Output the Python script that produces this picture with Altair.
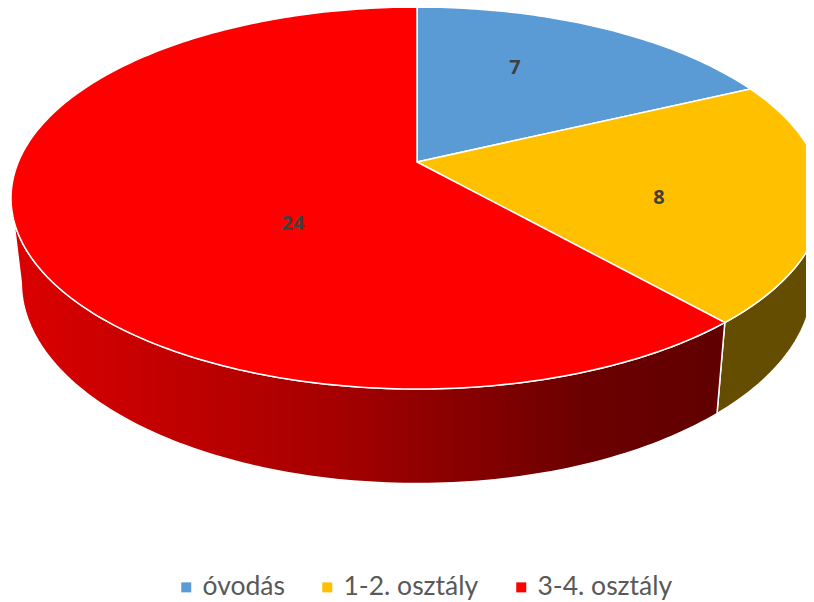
import math
import altair as alt

categories = ["óvodás", "1-2. osztály", "3-4. osztály"]
values = [7, 8, 24]
top_colors = ["#5B9BD5", "#FFC000", "#FF0000"]

# perspective view of the disc (pixels of the page)
CX, TOP_CY, BOT_CY = 417, 162, 244.5
TOP_A, TOP_B, BOT_A, BOT_B, K = 398.7, 184.2, 388.6, 194.0, 0.1885
OX, OY = -8, -8
LEFT_TANGENT, RIGHT_TANGENT = 259.0, 101.0
label_radius = [0.627, 0.615, 0.431]
label_shift = [-6.6, 6.4, -26.5]


def top(theta, r=1.0):
    t = math.radians(theta)
    u, v = r * math.sin(t), r * math.cos(t)
    w = 1 + K * v
    return [CX + TOP_A * u / w, TOP_CY - TOP_B * v / w]


def bottom(theta):
    t = math.radians(theta)
    u, v = math.sin(t), math.cos(t)
    w = 1 + K * v
    return [CX + BOT_A * u / w, BOT_CY - BOT_B * v / w]


def sweep(a, b, step=1.0):
    n = max(2, int(abs(b - a) / step))
    return [a + (b - a) * i / n for i in range(n + 1)]


def feature(cat, ring):
    ring = ring + [ring[0]]
    return {"type": "Feature", "properties": {"category": cat},
            "geometry": {"type": "Polygon", "coordinates": [ring]}}


total = sum(values)
edges = [0.0]
for v in values:
    edges.append(edges[-1] + v / total * 360)

tops = [feature(c, [top(0, 0)] + [top(t) for t in sweep(a, b)])
        for c, a, b in zip(categories, edges[:-1], edges[1:])]


def side(cat, a, b):
    ts = sweep(a, b)
    return feature(cat, [top(t) for t in ts] + [bottom(t) for t in reversed(ts)])


side_yellow = side(categories[1], RIGHT_TANGENT, edges[2])
side_red = side(categories[2], edges[2], LEFT_TANGENT)

label_rows = []
for c, v, a, b, r, s in zip(categories, values, edges[:-1], edges[1:], label_radius, label_shift):
    p = top((a + b) / 2 + s, r)
    label_rows.append({"lon": p[0], "lat": p[1], "value": str(v)})

proj = dict(type="identity", scale=1, translate=[OX, OY])


def gradient(stops):
    return alt.Gradient(gradient="linear", x1=0, x2=1, y1=0, y2=0,
                        stops=[alt.GradientStop(offset=o, color=c) for o, c in stops])


yellow_layer = alt.Chart(alt.Data(values=[side_yellow])).mark_geoshape(
    fill="#644C00", stroke="white", strokeWidth=1.5).project(**proj)
red_layer = alt.Chart(alt.Data(values=[side_red])).mark_geoshape(
    fill=gradient([(0, "#DC0000"), (0.45, "#A60000"), (0.8, "#6C0000"), (1, "#600000")]),
    stroke="white", strokeWidth=1.5).project(**proj)

top_layer = alt.Chart(alt.Data(values=tops)).mark_geoshape(
    stroke="white", strokeWidth=1.5).encode(
    color=alt.Color("properties.category:N",
                    scale=alt.Scale(domain=categories, range=top_colors),
                    legend=alt.Legend(title=None, orient="none", legendX=165, legendY=566,
                                      direction="horizontal", symbolType="square",
                                      symbolSize=100, symbolStrokeWidth=0,
                                      labelFont="Lato", labelFontSize=26.5,
                                      labelColor="#595959", labelLimit=300,
                                      columnPadding=29, labelOffset=3))
).project(**proj)

text_layer = alt.Chart(alt.Data(values=label_rows)).mark_text(
    font="Open Sans", fontSize=20, fontWeight="bold", color="#404040").encode(
    longitude="lon:Q", latitude="lat:Q", text="value:N").project(**proj)

chart = alt.layer(yellow_layer, red_layer, top_layer, text_layer).properties(
    width=798, height=594,
    padding=0,
    autosize=alt.AutoSizeParams(type="none"),
).configure_view(stroke=None)

chart.save("out.html", embed_options={"renderer": "svg", "actions": False})
